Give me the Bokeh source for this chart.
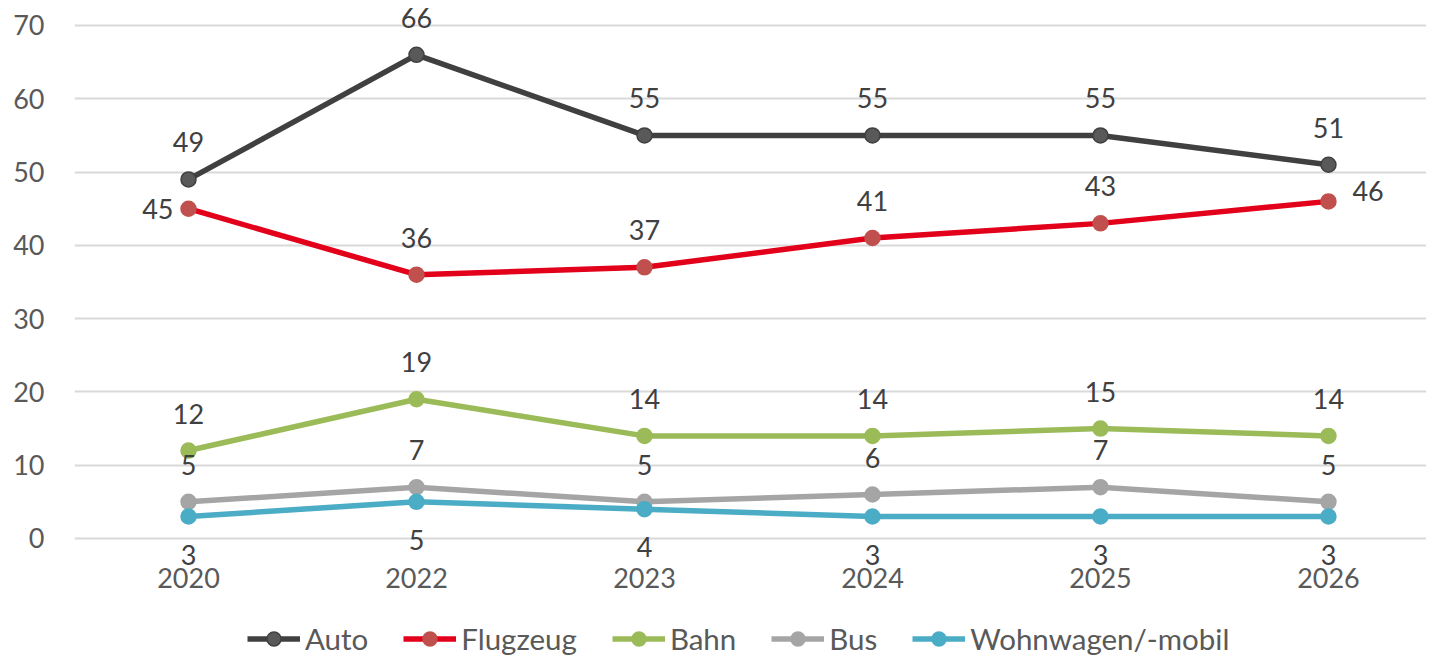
from bokeh.plotting import figure
from bokeh.models import (ColumnDataSource, Range1d, FixedTicker, Legend, LegendItem)
from bokeh.core.properties import value
from bokeh.embed import file_html
from bokeh.resources import INLINE

years = ["2020", "2022", "2023", "2024", "2025", "2026"]
auto = [49, 66, 55, 55, 55, 51]
flugzeug = [45, 36, 37, 41, 43, 46]
bahn = [12, 19, 14, 14, 15, 14]
bus = [5, 7, 5, 6, 7, 5]
wohnwagen = [3, 5, 4, 3, 3, 3]

FONT = "Lato"
FS = "27px"
TXT = "#595959"

# series: name, values, line colour, marker fill, marker outline, label placement
series = [
    ("Auto", auto, "#404040", "#595959", "#404040", ["above"] * 6),
    ("Flugzeug", flugzeug, "#e2001a", "#c0504d", "#c0504d", ["left", "above", "above", "above", "above", "right"]),
    ("Bahn", bahn, "#9bbb59", "#9bbb59", "#9bbb59", ["above"] * 6),
    ("Bus", bus, "#a5a5a5", "#a5a5a5", "#a5a5a5", ["above"] * 6),
    ("Wohnwagen/-mobil", wohnwagen, "#4bacc6", "#4bacc6", "#4bacc6", ["below"] * 6),
]

xs = list(range(len(years)))

p = figure(width=1426, height=655, output_backend="svg", toolbar_location=None,
           x_range=Range1d(-0.5, 5.43), y_range=Range1d(-15.965, 73.411),
           min_border_left=74, min_border_right=0, min_border_top=0,
           min_border_bottom=0)
p.outline_line_color = None
p.background_fill_color = "white"
p.border_fill_color = "white"

p.xgrid.grid_line_color = None
p.ygrid.grid_line_color = "#d9d9d9"
p.ygrid.grid_line_width = 2
p.yaxis.ticker = FixedTicker(ticks=[0, 10, 20, 30, 40, 50, 60, 70])
p.xaxis.ticker = FixedTicker(ticks=xs)
p.xaxis.major_label_overrides = {i: y for i, y in enumerate(years)}
p.xaxis.fixed_location = 0

for ax in (p.xaxis[0], p.yaxis[0]):
    ax.axis_line_color = None
    ax.major_tick_line_color = None
    ax.minor_tick_line_color = None
    ax.major_tick_out = 0
    ax.major_tick_in = 0
    ax.major_label_text_font = FONT
    ax.major_label_text_font_size = FS
    ax.major_label_text_color = TXT
p.yaxis.major_label_standoff = 30
p.xaxis.major_label_standoff = 30

offsets = {"above": (0, -37, "center"), "below": (0, 38, "center"),
           "left": (-15, 0, "right"), "right": (24, -10, "left")}

items = []
label_groups = []
for name, vals, lc, mc, oc, place in series:
    src = ColumnDataSource(dict(x=xs, y=vals))
    r1 = p.line("x", "y", source=src, line_color=lc, line_width=5.5)
    r2 = p.scatter("x", "y", source=src, size=15, fill_color=mc, line_color=oc,
                   line_width=1.5)
    items.append(LegendItem(label=name, renderers=[r1, r2]))
    for key in ("above", "below", "left", "right"):
        idx = [i for i, pl in enumerate(place) if pl == key]
        if not idx:
            continue
        label_groups.append((key, [xs[i] for i in idx], [vals[i] for i in idx]))

for key, lx, ly in label_groups:
    dx, dy, align = offsets[key]
    p.text(x=lx, y=ly, text=[str(v) for v in ly], x_offset=dx, y_offset=dy,
           text_align=align, text_baseline="middle", text_font=value(FONT),
           text_font_size=FS, text_color="#404040")

legend = Legend(items=items, orientation="horizontal", location=(173, -1),
                label_text_font=FONT, label_text_font_size="29.5px", label_text_color=TXT,
                glyph_width=53, glyph_height=35, spacing=35, label_standoff=5,
                padding=0, margin=0, border_line_color=None,
                background_fill_alpha=0)
p.add_layout(legend, "center")

open("out.html", "w").write(file_html(p, INLINE))
